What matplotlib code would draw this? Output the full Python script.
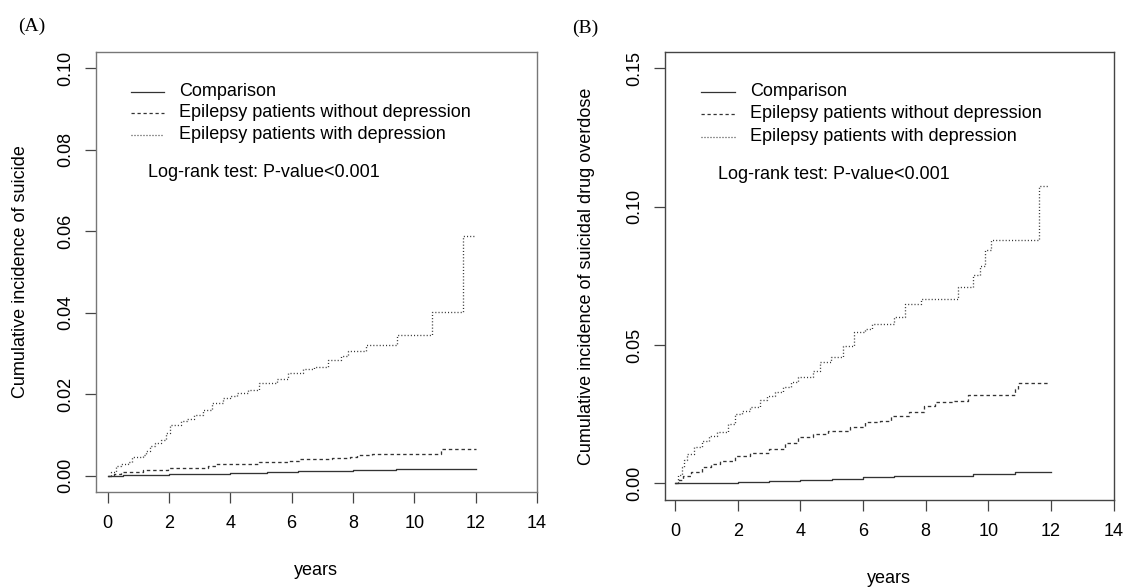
import matplotlib
matplotlib.use('Agg')
import matplotlib.pyplot as plt

# Panel A: cumulative incidence of suicide (step times in years, cumulative incidence)
a_comp_t = [0, 0.5, 2.0, 4.0, 5.2, 6.2, 8.0, 9.4, 12.0]
a_comp_v = [0, 0.0001, 0.0003, 0.0006, 0.0009, 0.0011, 0.0013, 0.0016, 0.0016]

a_nodep_t = [0, 0.2, 0.44, 1.15, 1.98, 2.6, 3.28, 3.52, 4.94, 5.89, 6.24, 7.31, 7.9, 8.14, 8.61,
             10.86, 12.0]
a_nodep_v = [0, 0.0004, 0.0008, 0.0015, 0.0018, 0.002, 0.0023, 0.0029, 0.0033, 0.0035, 0.0041,
             0.0043, 0.0046, 0.0051, 0.0054, 0.0066, 0.0066]

a_dep_t = [0, 0.1, 0.26, 0.45, 0.68, 0.79, 1.15, 1.25, 1.39, 1.55, 1.74, 1.9, 2.04, 2.39, 2.6,
           2.81, 3.1, 3.4, 3.76, 4.0, 4.23, 4.59, 4.94, 5.53, 5.89, 6.36, 6.72, 7.19, 7.61, 7.84,
           8.44, 9.44, 10.57, 11.58, 11.95]
a_dep_v = [0, 0.001, 0.0023, 0.0028, 0.0033, 0.0047, 0.0051, 0.006, 0.0072, 0.008, 0.0088,
           0.0105, 0.0125, 0.0133, 0.014, 0.0149, 0.0162, 0.0178, 0.019, 0.0196, 0.0202, 0.021,
           0.0227, 0.0237, 0.0251, 0.0261, 0.0266, 0.0284, 0.0294, 0.0307, 0.0321, 0.0345,
           0.0402, 0.0589, 0.0589]

# Panel B: cumulative incidence of suicidal drug overdose
b_comp_t = [0, 1.0, 2.0, 3.0, 4.0, 5.0, 6.0, 7.0, 8.0, 9.5, 10.85, 12.0]
b_comp_v = [0, 0.0003, 0.0006, 0.0009, 0.0013, 0.0017, 0.0022, 0.0025, 0.0028, 0.0034, 0.0041, 0.0041]

b_nodep_t = [0, 0.1, 0.27, 0.5, 0.86, 1.15, 1.45, 1.92, 2.4, 2.99, 3.5, 3.93, 4.4, 4.88, 5.58,
             6.06, 6.53, 6.88, 7.47, 7.94, 8.3, 8.89, 9.36, 10.84, 10.96, 11.9]
b_nodep_v = [0, 0.0012, 0.0028, 0.0042, 0.0058, 0.0071, 0.0082, 0.01, 0.011, 0.0124, 0.0145,
             0.0166, 0.0178, 0.019, 0.0205, 0.022, 0.0227, 0.0245, 0.0257, 0.0281, 0.0293,
             0.0299, 0.032, 0.0341, 0.0364, 0.0364]

b_dep_t = [0, 0.1, 0.21, 0.3, 0.39, 0.6, 0.86, 1.1, 1.33, 1.69, 1.92, 2.15, 2.4, 2.7, 2.93,
           3.2, 3.46, 3.7, 3.93, 4.4, 4.64, 4.99, 5.35, 5.7, 6.06, 6.29, 7.0, 7.35, 7.85, 9.02,
           9.52, 9.73, 9.9, 10.08, 11.63, 11.91]
b_dep_v = [0, 0.003, 0.0058, 0.0085, 0.0106, 0.013, 0.0154, 0.017, 0.0184, 0.0214, 0.0251,
           0.026, 0.0275, 0.03, 0.0317, 0.033, 0.0347, 0.0365, 0.0383, 0.0407, 0.0437, 0.0455,
           0.0498, 0.0546, 0.0558, 0.0576, 0.06, 0.0648, 0.0668, 0.0708, 0.0754, 0.0784,
           0.0845, 0.0881, 0.1075, 0.1075]

labels = ['Comparison', 'Epilepsy patients without depression', 'Epilepsy patients with depression']
x_ticks = [0, 2, 4, 6, 8, 10, 12, 14]
a_y_ticks = [0.00, 0.02, 0.04, 0.06, 0.08, 0.10]
b_y_ticks = [0.00, 0.05, 0.10, 0.15]

plt.rcParams['font.family'] = ['Liberation Sans', 'DejaVu Sans']
FS = 13
LINE_C = '#333333'
styles = ['-', (0, (2.6, 2.2)), (0, (0.8, 1.6))]


def draw_panel(ax, series, y_ticks, ylim, xlim_left, box_color, leg_x, leg_rows, lr_pos):
    for (t, v), ls in zip(series, styles):
        ax.step(t, v, where='post', color=LINE_C, lw=0.95, linestyle=ls)
    ax.set_xlim(xlim_left, 14)
    ax.set_ylim(*ylim)
    ax.set_xticks(x_ticks)
    ax.set_xticklabels([str(x) for x in x_ticks])
    ax.set_yticks(y_ticks)
    ax.set_yticklabels([f'{y:.2f}' for y in y_ticks], rotation=90, va='center')
    ax.tick_params(axis='x', length=7.8, width=0.9, color='#444444', pad=9, labelsize=FS)
    ax.tick_params(axis='y', length=7.6, width=0.9, color='#444444', pad=8, labelsize=FS)
    for sp in ax.spines.values():
        sp.set_color(box_color)
        sp.set_linewidth(1.0)
    # legend drawn by hand, like R's legend(bty="n")
    x0, x1, xt = leg_x
    for ls, lab, y in zip(styles, labels, leg_rows):
        ax.plot([x0, x1], [y, y], transform=ax.transAxes, color=LINE_C, lw=0.9,
                linestyle=ls, clip_on=False)
        ax.text(xt, y, lab, transform=ax.transAxes, fontsize=FS, va='center', ha='left')
    ax.text(lr_pos[0], lr_pos[1], 'Log-rank test: P-value<0.001', transform=ax.transAxes,
            fontsize=FS, va='center', ha='left')


fig = plt.figure(figsize=(11.26, 5.88), dpi=100)

ax_a = fig.add_axes([0.0850, 0.1633, 0.3919, 0.7488])
draw_panel(ax_a,
           [(a_comp_t, a_comp_v), (a_nodep_t, a_nodep_v), (a_dep_t, a_dep_v)],
           a_y_ticks, (-0.004, 0.104), -0.388, '#777777',
           (0.0795, 0.1548, 0.1894), (0.9085, 0.8608, 0.8108), (0.1185, 0.7245))

ax_b = fig.add_axes([0.5906, 0.1497, 0.3985, 0.7624])
draw_panel(ax_b,
           [(b_comp_t, b_comp_v), (b_nodep_t, b_nodep_v), (b_dep_t, b_dep_v)],
           b_y_ticks, (-0.006, 0.156), -0.319, '#444444',
           (0.0793, 0.1556, 0.190), (0.9101, 0.861, 0.8097), (0.117, 0.725))

fig.text(0.2806, 0.0306, 'years', fontsize=FS, ha='center', va='center')
fig.text(0.7895, 0.017, 'years', fontsize=FS, ha='center', va='center')
fig.text(0.0178, 0.5374, 'Cumulative incidence of suicide', fontsize=FS,
         rotation=90, ha='center', va='center')
fig.text(0.5213, 0.5306, 'Cumulative incidence of suicidal drug overdose', fontsize=FS,
         rotation=90, ha='center', va='center')
fig.text(0.0282, 0.9546, '(A)', fontsize=14, ha='center', va='center',
         family=['Liberation Serif', 'DejaVu Serif'])
fig.text(0.5195, 0.9519, '(B)', fontsize=14, ha='center', va='center',
         family=['Liberation Serif', 'DejaVu Serif'])

fig.savefig('out.png', dpi=100)
